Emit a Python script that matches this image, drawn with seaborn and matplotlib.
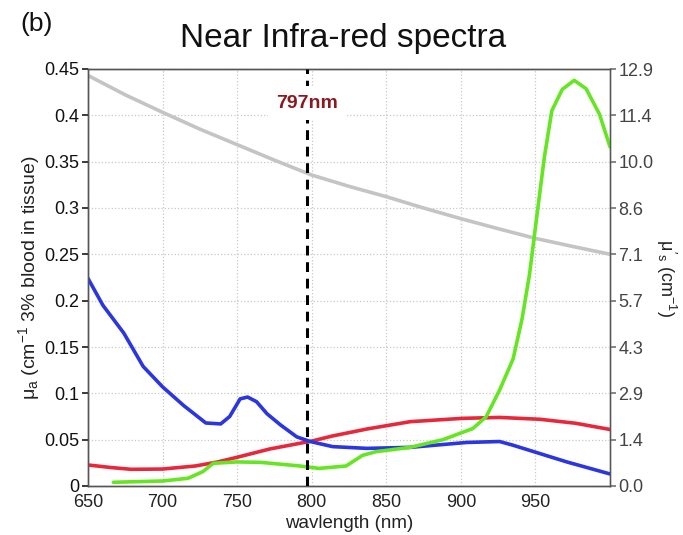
import numpy as np
import pandas as pd
import matplotlib
matplotlib.use("Agg")
import matplotlib.pyplot as plt
import seaborn as sns

sns.set_theme(style="white")
plt.rcParams["font.family"] = ["Liberation Sans", "DejaVu Sans"]
plt.rcParams["mathtext.fontset"] = "custom"
plt.rcParams["mathtext.rm"] = "Liberation Sans"
plt.rcParams["mathtext.it"] = "Liberation Sans"

# Absorption spectra (cm^-1), left axis
blue_nm = [650, 660, 674, 687, 700, 714, 729, 739, 745, 752, 757, 763, 770, 779,
           790, 799, 814, 837, 866, 904, 926, 935, 953, 971, 1000]
blue_val = [0.224, 0.195, 0.165, 0.129, 0.107, 0.087, 0.068, 0.067, 0.075, 0.094,
            0.096, 0.091, 0.078, 0.066, 0.053, 0.048, 0.0425, 0.0406, 0.0417, 0.047,
            0.048, 0.044, 0.035, 0.026, 0.013]

red_nm = [650, 665, 679, 700, 722, 737, 750, 772, 800, 814, 837, 866, 901, 926,
          953, 977, 1000]
red_val = [0.0227, 0.020, 0.018, 0.0183, 0.0216, 0.026, 0.031, 0.040, 0.0485, 0.054,
           0.0615, 0.0694, 0.073, 0.074, 0.072, 0.0677, 0.061]

green_nm = [667, 700, 717, 727, 734, 750, 766, 792, 805, 823, 834, 843, 866, 888,
            908, 917, 926, 935, 941, 946, 951, 956, 961, 968, 976, 984, 993, 1000]
green_val = [0.004, 0.0054, 0.0083, 0.0155, 0.0245, 0.026, 0.0255, 0.0216, 0.019,
             0.0216, 0.033, 0.037, 0.0417, 0.050, 0.062, 0.0748, 0.1036, 0.137, 0.180,
             0.228, 0.292, 0.355, 0.405, 0.428, 0.4378, 0.4287, 0.401, 0.366]

# Reduced scattering coefficient (cm^-1), right axis
gray_nm = [650, 675, 700, 725, 750, 775, 800, 825, 850, 875, 900, 925, 950, 975, 1000]
gray_val = [12.7, 12.1, 11.56, 11.04, 10.56, 10.08, 9.62, 9.27, 8.95, 8.6, 8.27,
            7.96, 7.66, 7.41, 7.17]

marker_nm = 797
left_ticks = [0, 0.05, 0.1, 0.15, 0.2, 0.25, 0.3, 0.35, 0.4, 0.45]
left_labels = ["0", "0.05", "0.1", "0.15", "0.2", "0.25", "0.3", "0.35", "0.4", "0.45"]
right_labels = ["0.0", "1.4", "2.9", "4.3", "5.7", "7.1", "8.6", "10.0", "11.4", "12.9"]
x_ticks = [650, 700, 750, 800, 850, 900, 950]

fig = plt.figure(figsize=(6.83, 5.35), dpi=100)
ax = fig.add_axes([88 / 683, 49 / 535, 522 / 683, 417 / 535])
ax2 = ax.twinx()

lw = 2.6
sns.lineplot(x=gray_nm, y=gray_val, ax=ax2, color="#c4c4c4", lw=lw,
             sort=False, estimator=None)
sns.lineplot(x=red_nm, y=red_val, ax=ax, color="#e8283a", lw=lw,
             sort=False, estimator=None)
sns.lineplot(x=blue_nm, y=blue_val, ax=ax, color="#2b36e0", lw=lw,
             sort=False, estimator=None)
sns.lineplot(x=green_nm, y=green_val, ax=ax, color="#66e622", lw=lw,
             sort=False, estimator=None)

ax.axvline(marker_nm, color="black", lw=2.2, ls=(0, (3.2, 2.2)), zorder=5)
ax.text(marker_nm, 0.413, f"{marker_nm}nm", color="#8b1a1f", fontsize=14,
        fontweight="bold", ha="center", va="center", zorder=6,
        bbox=dict(facecolor="white", edgecolor="none", pad=6))

ax.set_xlim(650, 1000)
ax.set_ylim(0, 0.45)
ax2.set_ylim(0, 12.9)
ax.set_xticks(x_ticks)
ax.set_xticklabels([str(t) for t in x_ticks])
ax.set_yticks(left_ticks)
ax.set_yticklabels(left_labels)
ax2.set_yticks(np.linspace(0, 12.9, 10))
ax2.set_yticklabels(right_labels)

ax.grid(True, ls=":", color="#c8c8c8", lw=0.9)
ax.set_zorder(ax2.get_zorder() + 1)
ax.patch.set_visible(False)

for a in (ax, ax2):
    for s in a.spines.values():
        s.set_color("#555555")
        s.set_linewidth(1.0)
ax2.spines["right"].set_color("#888888")

ax.tick_params(axis="both", labelsize=13, colors="#222222", length=4,
               direction="out", pad=2)
ax.tick_params(axis="y", labelcolor="#111111")
ax2.tick_params(axis="y", labelsize=13, labelcolor="#444444", color="#777777",
                length=4, direction="out", pad=2)

ax.set_xlabel("wavlength (nm)", fontsize=13.5, color="#222222", labelpad=3)
ax.set_ylabel(r"$\mu_a$ (cm$^{-1}$ 3% blood in tissue)", fontsize=14,
              color="#222222", labelpad=2)
ax2.set_ylabel(r"$\mu'_s$ (cm$^{-1}$)", fontsize=13, color="#222222",
               rotation=270, labelpad=18)

fig.text(343 / 683, 1 - 38 / 535, "Near Infra-red spectra", fontsize=24,
         ha="center", va="center", color="#111111")
fig.text(20 / 683, 1 - 24 / 535, "(b)", fontsize=19, ha="left", va="center",
         color="#111111")

fig.savefig("out.png", dpi=100)
